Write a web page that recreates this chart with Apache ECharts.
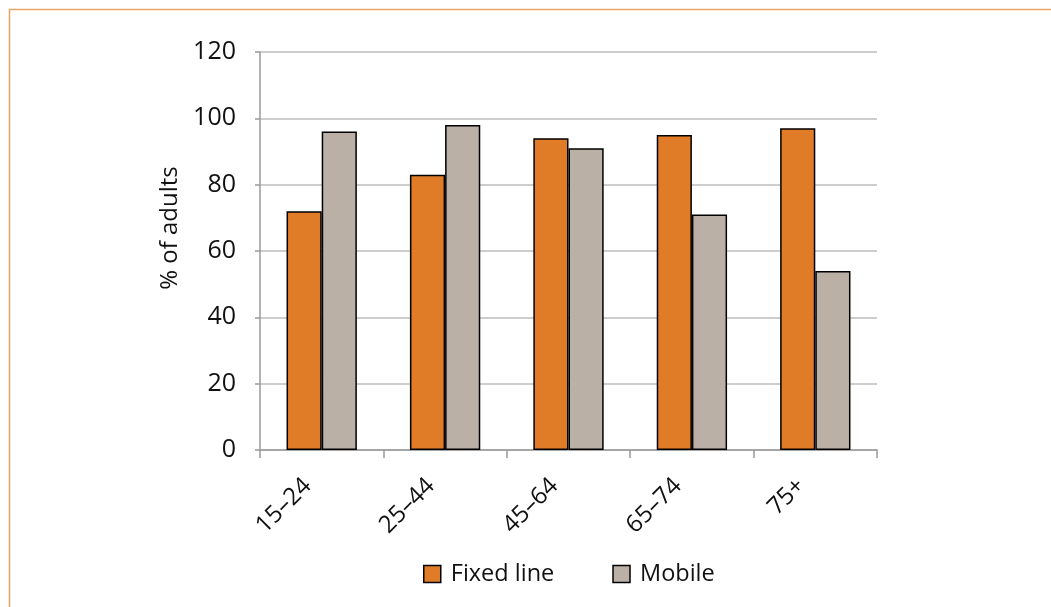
<!DOCTYPE html>
<html><head><meta charset="utf-8">
<script src="https://cdn.jsdelivr.net/npm/echarts@6/dist/echarts.min.js"></script>
<style>html,body{margin:0;padding:0;background:#fff}#c{width:1051px;height:607px}</style>
</head><body><div id="c"></div>
<script>
const categories = ['15–24', '25–44', '45–64', '65–74', '75+'];
const fixedLine = [72, 83, 94, 95, 97];
const mobile = [96, 98, 91, 71, 54];
const yTicks = {min: 0, max: 120, interval: 20};
const seriesNames = ['Fixed line', 'Mobile'];
const yName = '% of adults';

const FONT = 'Open Sans';
const chart = echarts.init(document.getElementById('c'), null, {renderer: 'canvas'});
chart.setOption({
  animation: false,
  backgroundColor: '#fff',
  textStyle: {fontFamily: FONT},
  graphic: [{
    type: 'rect', shape: {x: 9.5, y: 9.5, width: 1100, height: 700},
    style: {fill: 'none', stroke: '#E9A467', lineWidth: 1.5}, silent: true, z: -1
  }],
  grid: {left: 260, right: 174, top: 52, bottom: 157, containLabel: false},
  legend: {
    data: seriesNames, left: 418, top: 557, itemWidth: 17, itemHeight: 17, itemGap: 58,
    icon: 'rect',
    textStyle: {fontFamily: FONT, fontSize: 23.5, color: '#111', padding: [0, 0, 0, 5]},
    itemStyle: {borderColor: '#000', borderWidth: 1.5}
  },
  xAxis: {
    type: 'category', data: categories,
    axisLine: {show: true, lineStyle: {color: '#999', width: 1.5}},
    axisTick: {show: true, length: 8, lineStyle: {color: '#999', width: 1.5}},
    axisLabel: {rotate: 45, margin: 18, fontSize: 24, color: '#111', fontFamily: FONT, padding: [0, 20, 0, 0]},
    splitLine: {show: false}
  },
  yAxis: {
    type: 'value', min: yTicks.min, max: yTicks.max, interval: yTicks.interval,
    name: yName, nameLocation: 'middle', nameGap: 78, nameRotate: 90,
    nameTextStyle: {fontSize: 24, color: '#111', fontFamily: FONT, padding: [0, 0, 0, 46]},
    axisLine: {show: true, lineStyle: {color: '#999', width: 1.5}},
    axisTick: {show: true, inside: false, length: 5, lineStyle: {color: '#999', width: 1.5}},
    axisLabel: {margin: 24, fontSize: 25, color: '#111', fontFamily: FONT},
    splitLine: {show: true, lineStyle: {color: '#BDBDBD', width: 1.5}}
  },
  series: [
    {name: seriesNames[0], type: 'bar', data: fixedLine, barGap: '0%', barCategoryGap: '43%',
     itemStyle: {color: '#E07B28', borderColor: '#000', borderWidth: 1.5}},
    {name: seriesNames[1], type: 'bar', data: mobile,
     itemStyle: {color: '#BAB0A6', borderColor: '#000', borderWidth: 1.5}}
  ]
});
</script></body></html>
